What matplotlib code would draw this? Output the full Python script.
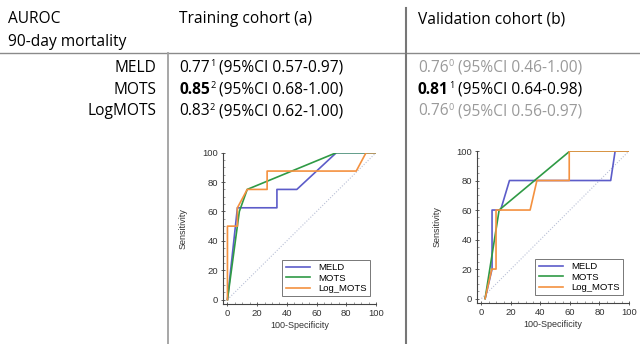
import matplotlib
matplotlib.use("Agg")
import matplotlib.pyplot as plt

plt.rcParams['font.family'] = ['Open Sans', 'DejaVu Sans']

# ---- table data ----
header_left = ['AUROC', '90-day mortality']
col_titles = ['Training cohort (a)', 'Validation cohort (b)']
row_labels = ['MELD', 'MOTS', 'LogMOTS']
train_auc = ['0.77', '0.85', '0.83']
train_sup = ['1', '2', '2']
train_ci = ['0.57-0.97', '0.68-1.00', '0.62-1.00']
train_bold = [False, True, False]
valid_auc = ['0.76', '0.81', '0.76']
valid_sup = ['0', '1', '0']
valid_ci = ['0.46-1.00', '0.64-0.98', '0.56-0.97']
valid_bold = [False, True, False]
valid_gray = [True, False, True]

# ---- ROC data (100-Specificity, Sensitivity) ----
series = ['MELD', 'MOTS', 'Log_MOTS']
train_meld_x = [0, 6.7, 33.3, 33.3, 46.7, 73.3, 100]
train_meld_y = [0, 62.5, 62.5, 75, 75, 100, 100]
train_mots_x = [0, 4, 8, 13.3, 73.3, 100]
train_mots_y = [0, 30, 60, 75, 100, 100]
train_log_x = [0, 0, 6.7, 6.7, 13.3, 26.7, 26.7, 86.7, 93.3, 100]
train_log_y = [0, 50, 50, 62.5, 75, 75, 87.5, 87.5, 100, 100]

valid_meld_x = [2.5, 7.2, 7.2, 13, 19, 87.6, 90.6, 100]
valid_meld_y = [0, 20, 60, 60, 80, 80, 100, 100]
valid_mots_x = [2.5, 12, 60, 100]
valid_mots_y = [0, 60, 100, 100]
valid_log_x = [2.5, 7, 9.9, 9.9, 33, 37.6, 59.5, 59.5, 100]
valid_log_y = [0, 20, 20, 60, 60, 80, 80, 100, 100]

colors = ['#5c5cc9', '#2f9a45', '#f4913f']

W, H = 640, 344
fig = plt.figure(figsize=(6.4, 3.44), dpi=100)
ov = fig.add_axes([0, 0, 1, 1])
ov.set_xlim(0, W)
ov.set_ylim(H, 0)
ov.axis('off')

# lines of table
ov.plot([0, W], [53, 53], color='#8a8a8a', lw=1.0)
ov.plot([168, 168], [53, H], color='#a0a0a0', lw=1.3)
ov.plot([406, 406], [8, H], color='#777777', lw=1.5)

FS = 11.2
ov.text(8, 19, header_left[0], fontsize=FS, va='center', ha='left')
ov.text(8, 42, header_left[1], fontsize=FS, va='center', ha='left')
ov.text(179, 19, col_titles[0], fontsize=FS, va='center', ha='left')
ov.text(418, 19, col_titles[1], fontsize=FS, va='center', ha='left')

row_y = [68, 90, 111]
for lab, y in zip(row_labels, row_y):
    ov.text(156, y, lab, fontsize=FS, va='center', ha='right')

fig.canvas.draw()
renderer = fig.canvas.get_renderer()


def seg_text(x0, y, parts, color):
    """parts: list of (text, weight, sup)"""
    x = x0
    for txt, weight, sup in parts:
        if sup:
            t = ov.text(x + 0.3, y - 4, txt, fontsize=6.6, va='center', ha='left',
                        color=color, fontweight='normal')
            extra = 4.0
        else:
            t = ov.text(x, y, txt, fontsize=FS, va='center', ha='left',
                        color=color, fontweight=weight)
            extra = 0.0
        bb = t.get_window_extent(renderer=renderer)
        x += bb.width * (W / fig.bbox.width) + extra
    return x


for i, y in enumerate(row_y):
    seg_text(179, y, [(train_auc[i], 'bold' if train_bold[i] else 'normal', False),
                      (train_sup[i], 'normal', True),
                      ('(95%CI ' + train_ci[i] + ')', 'normal', False)], 'black')
    c = '#9a9a9a' if valid_gray[i] else 'black'
    seg_text(418, y, [(valid_auc[i], 'bold' if valid_bold[i] else 'normal', False),
                      (valid_sup[i], 'normal', True),
                      ('(95%CI ' + valid_ci[i] + ')', 'normal', False)], c)

PF = ['Liberation Sans', 'DejaVu Sans']


def roc_axes(rect, xs, ys):
    ax = fig.add_axes(rect)
    ax.plot([0, 100], [0, 100], color='#b9c0d6', lw=0.8, ls=(0, (1, 1.5)))
    for (x, yv), col, name in zip(zip(xs, ys), colors, series):
        ax.plot(x, yv, color=col, lw=1.2, label=name)
    ax.set_xlim(-3, 100)
    ax.set_ylim(-3, 100)
    ax.set_xticks([0, 20, 40, 60, 80, 100])
    ax.set_yticks([0, 20, 40, 60, 80, 100])
    ax.set_xticks(range(0, 101, 5), minor=True)
    ax.set_yticks(range(0, 101, 5), minor=True)
    for s in ['top', 'right']:
        ax.spines[s].set_visible(False)
    for s in ['left', 'bottom']:
        ax.spines[s].set_color('#444444')
        ax.spines[s].set_linewidth(0.8)
    ax.tick_params(labelsize=6.8, length=3, width=0.6, color='#444444', pad=2,
                   labelcolor='#333333', direction='inout')
    ax.tick_params(which='minor', length=1.5, width=0.5, color='#777777',
                   direction='in')
    for lab in ax.get_xticklabels() + ax.get_yticklabels():
        lab.set_family(PF)
    ax.set_xlabel('100-Specificity', fontsize=6.5, labelpad=2, color='#333333',
                  family=PF)
    ax.set_ylabel('Sensitivity', fontsize=6.5, labelpad=11, color='#333333',
                  family=PF)
    ax.patch.set_alpha(0)
    leg = ax.legend(loc='lower right', bbox_to_anchor=(0.99, 0.02),
                    prop={'family': PF, 'size': 6.8},
                    frameon=True, fancybox=False, handlelength=2.6,
                    borderpad=0.35, labelspacing=0.15, handletextpad=0.8)
    leg.get_frame().set_edgecolor('#555555')
    leg.get_frame().set_linewidth(0.7)
    return ax


roc_axes([223 / W, 1 - 304 / H, 153 / W, 151.3 / H],
         [train_meld_x, train_mots_x, train_log_x],
         [train_meld_y, train_mots_y, train_log_y])
roc_axes([477 / W, 1 - 303 / H, 152 / W, 152 / H],
         [valid_meld_x, valid_mots_x, valid_log_x],
         [valid_meld_y, valid_mots_y, valid_log_y])

fig.savefig('out.png', dpi=100)
